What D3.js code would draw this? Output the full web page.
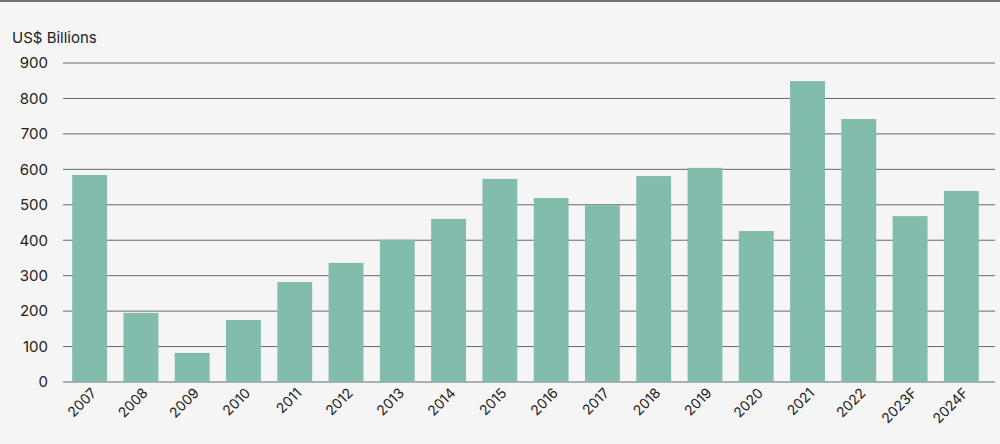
<!DOCTYPE html>
<html>
<head>
<meta charset="utf-8">
<script src="https://cdn.jsdelivr.net/npm/d3@7"></script>
<style>
  body { margin: 0; background: #f5f5f5; }
  svg { display: block; font-family: Inter, "Noto Sans", sans-serif; }
</style>
</head>
<body>
<svg></svg>
<script>
const years = ["2007", "2008", "2009", "2010", "2011", "2012", "2013", "2014", "2015",
  "2016", "2017", "2018", "2019", "2020", "2021", "2022", "2023F", "2024F"];
const values = [584, 195, 82, 175, 282, 336, 401, 460, 573, 519, 499, 581, 604, 426, 849, 742, 468, 539];
const yTicks = [0, 100, 200, 300, 400, 500, 600, 700, 800, 900];

const svgWidth = 1000;
const svgHeight = 444;

const svg = d3.select('svg')
  .attr('width', svgWidth)
  .attr('height', svgHeight);

// top rule
svg.append('line')
  .attr('x1', 0).attr('x2', svgWidth)
  .attr('y1', 1).attr('y2', 1)
  .attr('stroke', '#3e4a4a')
  .attr('stroke-width', 1.5);

const xScale = d3.scaleBand()
  .domain(years)
  .range([64, 987])
  .paddingInner(0.32)
  .paddingOuter(0.16);

const yScale = d3.scaleLinear()
  .domain([0, 900])
  .range([382, 63]);

// gridlines
svg.append('g')
  .selectAll('line')
  .data(yTicks)
  .join('line')
  .attr('x1', 63)
  .attr('x2', 995)
  .attr('y1', (d) => yScale(d))
  .attr('y2', (d) => yScale(d))
  .attr('stroke', '#3f4749')
  .attr('stroke-width', 0.8);

// bars
svg.append('g')
  .selectAll('rect')
  .data(values)
  .join('rect')
  .attr('x', (d, i) => xScale(years[i]))
  .attr('y', (d) => yScale(d))
  .attr('width', xScale.bandwidth())
  .attr('height', (d) => yScale(0) - yScale(d))
  .attr('fill', '#82bcad');

// y axis
const yAxis = svg.append('g')
  .attr('transform', 'translate(48,0)')
  .call(d3.axisLeft(yScale).tickValues(yTicks).tickSize(0).tickPadding(0));
yAxis.select('.domain').remove();
yAxis.selectAll('text')
  .attr('font-size', 15)
  .attr('fill', '#222')
  .style('font-family', 'Inter, "Noto Sans", sans-serif');

// x axis
const xAxis = svg.append('g')
  .attr('transform', 'translate(0,382)')
  .call(d3.axisBottom(xScale).tickSize(0));
xAxis.select('.domain').remove();
xAxis.selectAll('text')
  .attr('font-size', 14)
  .attr('fill', '#222')
  .style('font-family', 'Inter, "Noto Sans", sans-serif')
  .attr('text-anchor', 'end')
  .attr('x', -3)
  .attr('y', 9)
  .attr('dy', '0.35em')
  .attr('transform', 'rotate(-45)');

svg.append('text')
  .attr('x', 12)
  .attr('y', 43)
  .attr('font-size', 15)
  .attr('fill', '#222')
  .text('US$ Billions');
</script>
</body>
</html>
